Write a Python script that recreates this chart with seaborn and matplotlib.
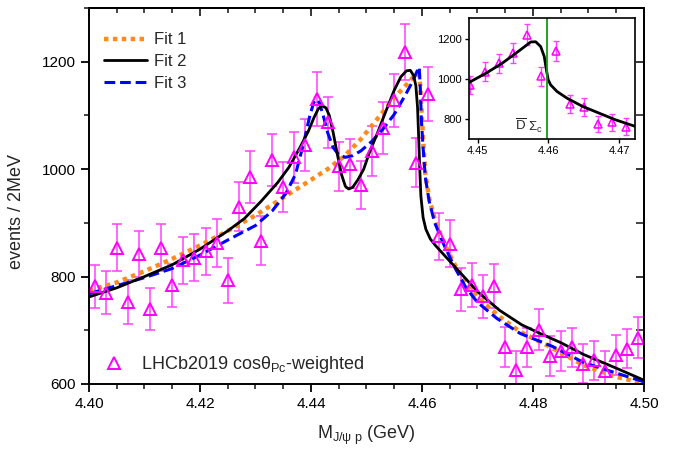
#!/usr/bin/env python3

import numpy as np
import pandas as pd
import matplotlib
matplotlib.use("Agg")
import matplotlib.pyplot as plt
from matplotlib.lines import Line2D
from matplotlib.ticker import MultipleLocator, FormatStrFormatter
import seaborn as sns


# data points (LHCb2019, cos theta_Pc weighted), 2 MeV bins
mass = [4.401, 4.403, 4.405, 4.407, 4.409, 4.411, 4.413, 4.415, 4.417, 4.419,
        4.421, 4.423, 4.425, 4.427, 4.429, 4.431, 4.433, 4.435, 4.437, 4.439,
        4.441, 4.443, 4.445, 4.447, 4.449, 4.451, 4.453, 4.455, 4.457, 4.459,
        4.461, 4.463, 4.465, 4.467, 4.469, 4.471, 4.473, 4.475, 4.477, 4.479,
        4.481, 4.483, 4.485, 4.487, 4.489, 4.491, 4.493, 4.495, 4.497, 4.499]
events = [782, 770, 854, 752, 842, 739, 854, 784, 830, 835,
          847, 863, 793, 930, 985, 867, 1017, 967, 1022, 1045,
          1131, 1087, 1005, 1010, 970, 1034, 1077, 1128, 1218, 1012,
          1140, 875, 861, 776, 784, 763, 783, 669, 626, 668,
          701, 652, 662, 668, 638, 644, 625, 654, 666, 686]
errors = [40, 40, 44, 41, 43, 39, 44, 40, 43, 44,
          44, 45, 42, 46, 48, 45, 48, 46, 47, 48,
          50, 48, 46, 46, 45, 47, 48, 50, 52, 46,
          50, 44, 44, 40, 41, 40, 41, 37, 36, 37,
          38, 37, 37, 37, 36, 36, 36, 37, 37, 38]

# Fit 1 (orange dotted)
fit1_x = [4.400, 4.405, 4.410, 4.415, 4.420, 4.425, 4.430, 4.435, 4.440, 4.443,
          4.446, 4.449, 4.452, 4.455, 4.457, 4.4583, 4.4590, 4.4594, 4.4597, 4.4599,
          4.4602, 4.4606, 4.4613, 4.4625, 4.4640, 4.4660, 4.4680, 4.4705, 4.4740, 4.4777,
          4.4831, 4.4891, 4.4951, 4.500]
fit1_y = [774, 789, 810, 833, 858, 885, 914, 947, 980, 1000,
          1024, 1056, 1094, 1133, 1155, 1170, 1177, 1176, 1155, 1113,
          1055, 992, 945, 900, 862, 820, 785, 757, 725, 697,
          669, 635, 613, 601]

# Fit 2 (black solid)
fit2_x = [4.400, 4.405, 4.410, 4.415, 4.420, 4.425, 4.428, 4.431, 4.434, 4.436,
          4.438, 4.4395, 4.4405, 4.4413, 4.4420, 4.4427, 4.4433, 4.4440, 4.4447, 4.4455,
          4.4462, 4.4468, 4.4475, 4.4485, 4.4495, 4.4505, 4.4520, 4.4535, 4.4550, 4.4562,
          4.4572, 4.4579, 4.4585, 4.4589, 4.4592, 4.4594, 4.4596, 4.4598, 4.4602, 4.4607,
          4.4615, 4.4625, 4.4640, 4.4655, 4.4670, 4.4700, 4.4740, 4.4780, 4.4815, 4.4850,
          4.4891, 4.4951, 4.500]
fit2_y = [762, 779, 800, 822, 851, 885, 908, 940, 975, 1003,
          1040, 1070, 1095, 1112, 1118, 1114, 1100, 1068, 1030, 990,
          968, 963, 966, 981, 1000, 1030, 1068, 1108, 1147, 1172,
          1183, 1184, 1174, 1155, 1115, 1060, 1000, 950, 910, 888,
          870, 857, 840, 823, 806, 772, 737, 710, 693, 677,
          655, 629, 607]

# Fit 3 (blue dashed)
fit3_x = [4.400, 4.405, 4.410, 4.415, 4.420, 4.425, 4.430, 4.433, 4.4355, 4.4372,
          4.4386, 4.4398, 4.4405, 4.4410, 4.4415, 4.4422, 4.4430, 4.4440, 4.4450, 4.4462,
          4.4475, 4.449, 4.451, 4.453, 4.455, 4.457, 4.4583, 4.4591, 4.4595, 4.4597,
          4.4599, 4.4602, 4.4606, 4.4613, 4.4623, 4.4640, 4.4660, 4.4680, 4.4700, 4.4735,
          4.4777, 4.4835, 4.4891, 4.4951, 4.500]
fit3_y = [768, 783, 798, 815, 840, 868, 895, 922, 955, 990,
          1045, 1100, 1124, 1130, 1124, 1100, 1068, 1040, 1027, 1022,
          1025, 1034, 1052, 1075, 1102, 1138, 1163, 1182, 1190, 1150,
          1090, 1040, 985, 940, 900, 858, 815, 778, 752, 722,
          694, 670, 640, 620, 604]

# inset curve (Fit 2 around the threshold)
inset_x = [4.4488, 4.4512, 4.4535, 4.4557, 4.4575, 4.4582, 4.4589, 4.4594, 4.4597, 4.45996,
           4.4603, 4.4612, 4.4626, 4.4648, 4.4671, 4.4694, 4.4722]
inset_y = [982, 1028, 1078, 1135, 1183, 1184, 1160, 1111, 1045, 995,
           970, 937, 904, 863, 830, 797, 764]
threshold = 4.4598

sns.set_theme(style="ticks")
plt.rcParams["font.family"] = ["Liberation Sans", "DejaVu Sans"]
plt.rcParams["mathtext.fontset"] = "custom"
plt.rcParams["mathtext.rm"] = "Liberation Sans"
plt.rcParams["mathtext.it"] = "Liberation Sans:italic"
plt.rcParams["axes.edgecolor"] = "black"

magenta = "#ff00ff"
orange = "#ff8a1c"
blue = "#0000ff"

fig = plt.figure(figsize=(6.73, 4.49), dpi=100)
ax = fig.add_axes([0.1322, 0.1448, 0.8247, 0.8374])

sns.lineplot(x=fit1_x, y=fit1_y, color=orange, linestyle=(0, (1.0, 1.0)), lw=3.2, ax=ax)
sns.lineplot(x=fit3_x, y=fit3_y, color=blue, linestyle=(0, (3.5, 1.6)), lw=2.2, ax=ax)
sns.lineplot(x=fit2_x, y=fit2_y, color="black", linestyle="-", lw=2.0, ax=ax)

ax.errorbar(mass, events, yerr=errors, fmt="none", ecolor="#ff40ff", elinewidth=1.1,
            capsize=3.5, capthick=1.1, zorder=1)
ax.plot(mass, events, linestyle="none", marker="^", markersize=8, markerfacecolor="none",
        markeredgecolor=magenta, markeredgewidth=1.4, zorder=2)

ax.set_xlim(4.40, 4.50)
ax.set_ylim(600, 1300)
ax.xaxis.set_major_locator(MultipleLocator(0.02))
ax.xaxis.set_minor_locator(MultipleLocator(0.005))
ax.xaxis.set_major_formatter(FormatStrFormatter("%.2f"))
ax.yaxis.set_major_locator(MultipleLocator(200))
ax.yaxis.set_minor_locator(MultipleLocator(100))
ax.tick_params(which="major", direction="out", length=6, width=1.3, labelsize=11, colors="black")
ax.tick_params(which="minor", direction="out", length=3.5, width=1.2)
for side in ["left", "bottom", "top", "right"]:
    ax.spines[side].set_linewidth(1.4)

top = ax.secondary_xaxis("top")
top.xaxis.set_major_locator(MultipleLocator(0.02))
top.xaxis.set_minor_locator(MultipleLocator(0.005))
top.tick_params(which="major", direction="in", length=6, width=1.3, labeltop=False)
top.tick_params(which="minor", direction="in", length=3.5, width=1.2)
right = ax.secondary_yaxis("right")
right.yaxis.set_major_locator(MultipleLocator(200))
right.yaxis.set_minor_locator(MultipleLocator(100))
right.tick_params(which="major", direction="in", length=6, width=1.3, labelright=False)
right.tick_params(which="minor", direction="in", length=6, width=1.2)

ax.set_xlabel(r"M$_{\mathrm{J/\psi\ p}}$ (GeV)", fontsize=13)
ax.xaxis.set_label_coords(0.5, -0.107)
ax.set_ylabel("events / 2MeV", fontsize=13)
ax.yaxis.set_label_coords(-0.115, 0.46)

fit_handles = [
    Line2D([], [], color=orange, linestyle=(0, (1.0, 1.0)), lw=3.2),
    Line2D([], [], color="black", lw=2.0),
    Line2D([], [], color=blue, linestyle=(0, (3.5, 1.6)), lw=2.2),
]
fit_legend = ax.legend(fit_handles, ["Fit 1", "Fit 2", "Fit 3"], loc="upper left",
                       bbox_to_anchor=(0.0, 0.975), frameon=False, fontsize=12,
                       handlelength=2.6, handletextpad=0.4, labelspacing=0.4)
ax.add_artist(fit_legend)

data_handle = Line2D([], [], linestyle="none", marker="^", markersize=8, markerfacecolor="none",
                     markeredgecolor=magenta, markeredgewidth=1.4)
ax.legend([data_handle], [r"LHCb2019 cosθ$_{\mathrm{Pc}}$-weighted"], loc="lower left",
          bbox_to_anchor=(-0.016, -0.02), frameon=False, fontsize=13, handletextpad=0.45)

# inset
axin = fig.add_axes([0.697, 0.690, 0.2465, 0.269])
axin.errorbar(mass, events, yerr=errors, fmt="none", ecolor="#ff40ff", elinewidth=1.0,
              capsize=2.2, capthick=1.0, zorder=1)
axin.plot(mass, events, linestyle="none", marker="^", markersize=5.5, markerfacecolor="none",
          markeredgecolor=magenta, markeredgewidth=1.1, zorder=2)
sns.lineplot(x=inset_x, y=inset_y, color="black", lw=2.0, ax=axin)
axin.axvline(threshold, color="#129a12", lw=1.3)
axin.text(4.4572, 720, r"$\overline{\mathrm{D}}$ Σ$_{\mathrm{c}}$", fontsize=9.5,
          ha="center", va="bottom")
axin.set_xlim(4.4488, 4.4722)
axin.set_ylim(700, 1300)
axin.xaxis.set_major_locator(MultipleLocator(0.01))
axin.xaxis.set_major_formatter(FormatStrFormatter("%.2f"))
axin.yaxis.set_major_locator(MultipleLocator(200))
axin.tick_params(direction="out", length=3, width=1.0, labelsize=8, pad=2, colors="black")
for side in ["left", "bottom", "top", "right"]:
    axin.spines[side].set_linewidth(1.2)

fig.savefig("out.png", dpi=100)
